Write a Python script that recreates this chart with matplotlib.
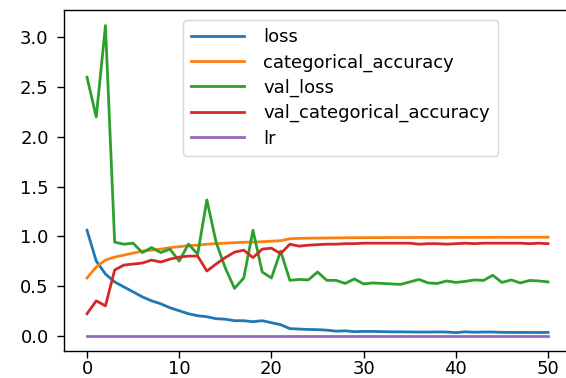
import matplotlib
matplotlib.use("Agg")
import matplotlib.pyplot as plt
import numpy as np

epochs = np.arange(51)

loss = [1.06, 0.75, 0.62, 0.54, 0.49, 0.44, 0.39, 0.35, 0.32, 0.28,
        0.25, 0.22, 0.20, 0.19, 0.17, 0.165, 0.15, 0.15, 0.14, 0.15,
        0.13, 0.11, 0.07, 0.066, 0.062, 0.06, 0.055, 0.045, 0.048, 0.04,
        0.042, 0.042, 0.04, 0.038, 0.038, 0.037, 0.036, 0.036, 0.037, 0.036,
        0.03, 0.038, 0.034, 0.036, 0.036, 0.033, 0.032, 0.032, 0.032, 0.031,
        0.032]
categorical_accuracy = [0.58, 0.69, 0.76, 0.79, 0.81, 0.83, 0.85, 0.86, 0.87, 0.885,
                        0.895, 0.905, 0.91, 0.92, 0.925, 0.93, 0.935, 0.94, 0.94, 0.945,
                        0.95, 0.955, 0.975, 0.978, 0.98, 0.981, 0.982, 0.983, 0.984, 0.985,
                        0.985, 0.986, 0.986, 0.987, 0.987, 0.987, 0.988, 0.988, 0.988, 0.988,
                        0.989, 0.988, 0.989, 0.989, 0.989, 0.99, 0.989, 0.99, 0.99, 0.99,
                        0.99]
val_loss = [2.60, 2.20, 3.12, 0.94, 0.92, 0.93, 0.835, 0.886, 0.835, 0.87,
            0.75, 0.92, 0.82, 1.365, 0.94, 0.68, 0.475, 0.58, 1.06, 0.64,
            0.58, 0.85, 0.556, 0.565, 0.56, 0.64, 0.556, 0.556, 0.525, 0.57,
            0.52, 0.53, 0.525, 0.52, 0.515, 0.54, 0.565, 0.53, 0.525, 0.55,
            0.535, 0.545, 0.56, 0.555, 0.607, 0.535, 0.56, 0.53, 0.555, 0.55,
            0.54]
val_categorical_accuracy = [0.22, 0.35, 0.30, 0.66, 0.71, 0.72, 0.73, 0.76, 0.74, 0.77,
                            0.79, 0.80, 0.80, 0.65, 0.72, 0.785, 0.84, 0.86, 0.785, 0.87,
                            0.88, 0.825, 0.92, 0.90, 0.91, 0.915, 0.92, 0.92, 0.925, 0.925,
                            0.93, 0.93, 0.93, 0.93, 0.93, 0.93, 0.92, 0.925, 0.925, 0.92,
                            0.925, 0.93, 0.925, 0.93, 0.93, 0.93, 0.93, 0.93, 0.925, 0.93,
                            0.925]
lr = [0.001] * 51

series = [("loss", loss), ("categorical_accuracy", categorical_accuracy),
          ("val_loss", val_loss), ("val_categorical_accuracy", val_categorical_accuracy),
          ("lr", lr)]

plt.rcParams["font.size"] = 13

fig = plt.figure(figsize=(5.66, 3.78), dpi=100)
ax = fig.add_axes([0.113, 0.0714, 0.896, 0.9021])
for name, vals in series:
    ax.plot(epochs, vals, label=name, linewidth=2.0)

ax.set_xticks([0, 10, 20, 30, 40, 50])
ax.set_yticks([0.0, 0.5, 1.0, 1.5, 2.0, 2.5, 3.0])
ax.tick_params(length=5, width=1)
ax.tick_params(axis="y", pad=6)
ax.tick_params(axis="x", pad=1.5)
for s in ax.spines.values():
    s.set_linewidth(1.0)

ax.legend(loc="upper left", bbox_to_anchor=(0.235, 0.971), borderaxespad=0,
          handlelength=2.9, handletextpad=1.1, labelspacing=0.4, borderpad=0.45)

fig.savefig("out.png", dpi=100)
